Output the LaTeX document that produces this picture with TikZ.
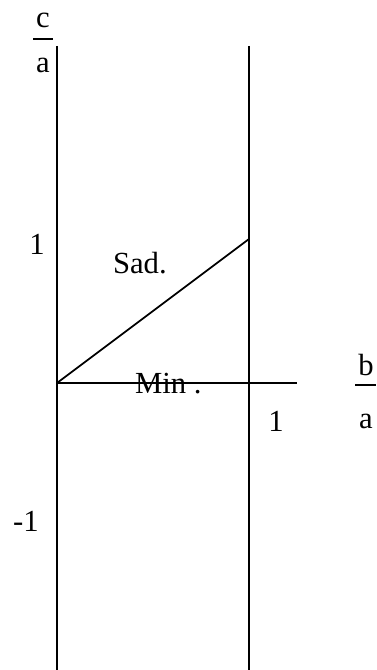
\documentclass[tikz,border=0pt]{standalone}
\usepackage{fontspec}
\setmainfont{Liberation Serif}
\begin{document}
\begin{tikzpicture}[x=0.75pt,y=-0.75pt,
  lbl/.style={inner sep=0pt,outer sep=0pt,anchor=base,font=\fontsize{23}{26}\selectfont},
  ln/.style={line width=1.3pt,black}]
\useasboundingbox (0,0) rectangle (377,670);
% coordinates
\coordinate (LT) at (57,46);
\coordinate (LB) at (57,670);
\coordinate (RT) at (249,46);
\coordinate (RB) at (249,670);
\coordinate (O) at (57,383);
\coordinate (HE) at (297,383);
\coordinate (D) at (249,239);
\draw[ln] (LT) -- (LB);
\draw[ln] (RT) -- (RB);
\draw[ln] (O) -- (HE);
\draw[ln] (O) -- (D);
% labels
\node[lbl] (c) at (43,28) {c};
\node[lbl] (ca) at (43,73) {a};
\coordinate (cb1) at (33,39);
\coordinate (cb2) at (53,39);
\draw[line width=1pt] (cb1) -- (cb2);
\node[lbl] (b) at (366,375) {b};
\node[lbl] (ba) at (366,428) {a};
\coordinate (bb1) at (355,385);
\coordinate (bb2) at (376,385);
\draw[line width=1pt] (bb1) -- (bb2);
\node[lbl] (one) at (37,254) {1};
\node[lbl] (mone) at (26,531) {-1};
\node[lbl] (oner) at (276,431) {1};
\node[lbl,anchor=base west] (sad) at (113,273) {Sad.};
\node[lbl,anchor=base west] (min) at (135,393) {Min .};
\end{tikzpicture}
\end{document}
